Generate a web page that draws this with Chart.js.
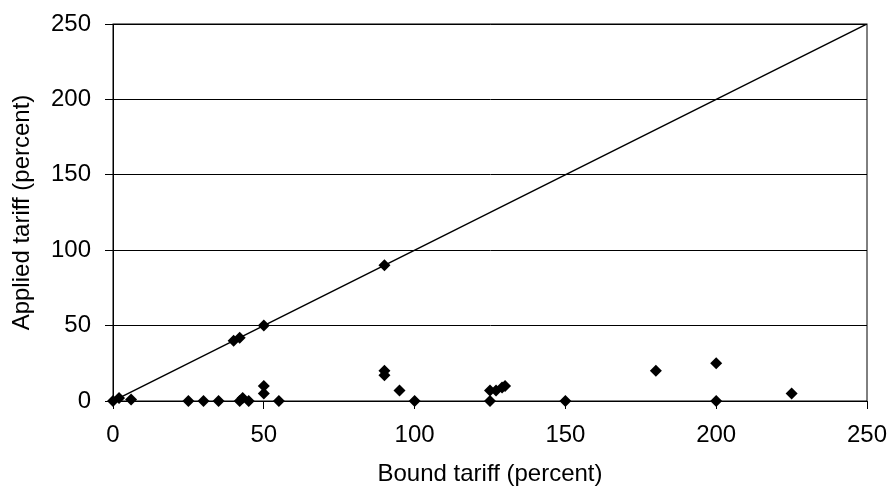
<!DOCTYPE html>
<html>
<head>
<meta charset="utf-8">
<script src="https://cdn.jsdelivr.net/npm/chart.js@4/dist/chart.umd.min.js"></script>
<style>
  html, body { margin: 0; padding: 0; background: #fff; }
  #wrap { width: 889px; height: 489px; }
</style>
</head>
<body>
<div id="wrap"><canvas id="myChart"></canvas></div>
<script>
// Datos
const boundTariff = [0, 2, 6, 25, 30, 35, 40, 42, 42, 43, 45, 50, 50, 50, 55, 90, 90, 90, 95, 100, 125, 125, 127, 129, 130, 150, 180, 200, 200, 225];
const appliedTariff = [0, 2, 1, 0, 0, 0, 40, 42, 0, 2, 0, 50, 10, 5, 0, 90, 20, 17, 7, 0, 0, 7, 7, 9, 10, 0, 20, 25, 0, 5];

// Linea de 45 grados
const lineaX = [0, 250];
const lineaY = [0, 250];

// Ticks
const ticksEje = [0, 50, 100, 150, 200, 250];

const puntos = boundTariff.map((x, i) => ({ x: x, y: appliedTariff[i] }));
const linea = lineaX.map((x, i) => ({ x: x, y: lineaY[i] }));

// Borde del area del grafico
const bordePlugin = {
    id: "borde",
    afterDraw(chart) {
        const { ctx, chartArea } = chart;
        ctx.save();
        ctx.strokeStyle = "#000";
        ctx.lineWidth = 1;
        ctx.strokeRect(chartArea.left, chartArea.top, chartArea.right - chartArea.left, chartArea.bottom - chartArea.top);
        ctx.restore();
    },
};

const fuente = { family: "'Liberation Sans', Arial, sans-serif", size: 24 };

new Chart(document.getElementById("myChart"), {
    type: "scatter",
    data: {
        datasets: [
            {
                type: "line",
                data: linea,
                borderColor: "#000",
                borderWidth: 1.5,
                pointRadius: 0,
                fill: false,
                order: 2,
            },
            {
                data: puntos,
                pointStyle: "rectRot",
                pointRadius: 6,
                backgroundColor: "#000",
                borderColor: "#000",
                borderWidth: 0,
                clip: false,
                order: 1,
            },
        ],
    },
    options: {
        responsive: true,
        maintainAspectRatio: false,
        animation: false,
        layout: { padding: { left: 8, top: 24, right: 22, bottom: 0 } },
        plugins: {
            legend: { display: false },
            tooltip: { enabled: false },
        },
        scales: {
            x: {
                type: "linear",
                min: 0,
                max: 250,
                afterBuildTicks: (axis) => { axis.ticks = ticksEje.map((v) => ({ value: v })); },
                afterFit: (axis) => {
                    axis.height = 88;
                    axis.paddingLeft = 0;
                    axis.paddingRight = 0;
                },
                ticks: { color: "#000", font: fuente, padding: 12 },
                grid: { drawOnChartArea: false, drawTicks: true, tickLength: 8, color: "#000" },
                border: { color: "#000", width: 1 },
                title: { display: true, text: "Bound tariff (percent)", color: "#000", font: fuente, padding: 0 },
            },
            y: {
                type: "linear",
                min: 0,
                max: 250,
                afterBuildTicks: (axis) => { axis.ticks = ticksEje.map((v) => ({ value: v })); },
                afterFit: (axis) => {
                    axis.width = 105;
                    axis.paddingTop = 0;
                    axis.paddingBottom = 0;
                },
                ticks: { color: "#000", font: fuente, padding: 14 },
                grid: { color: "#000", lineWidth: 1, drawTicks: true, tickLength: 8 },
                border: { color: "#000", width: 1 },
                title: { display: true, text: "Applied tariff (percent)", color: "#000", font: fuente, padding: 0 },
            },
        },
    },
    plugins: [bordePlugin],
});
</script>
</body>
</html>
